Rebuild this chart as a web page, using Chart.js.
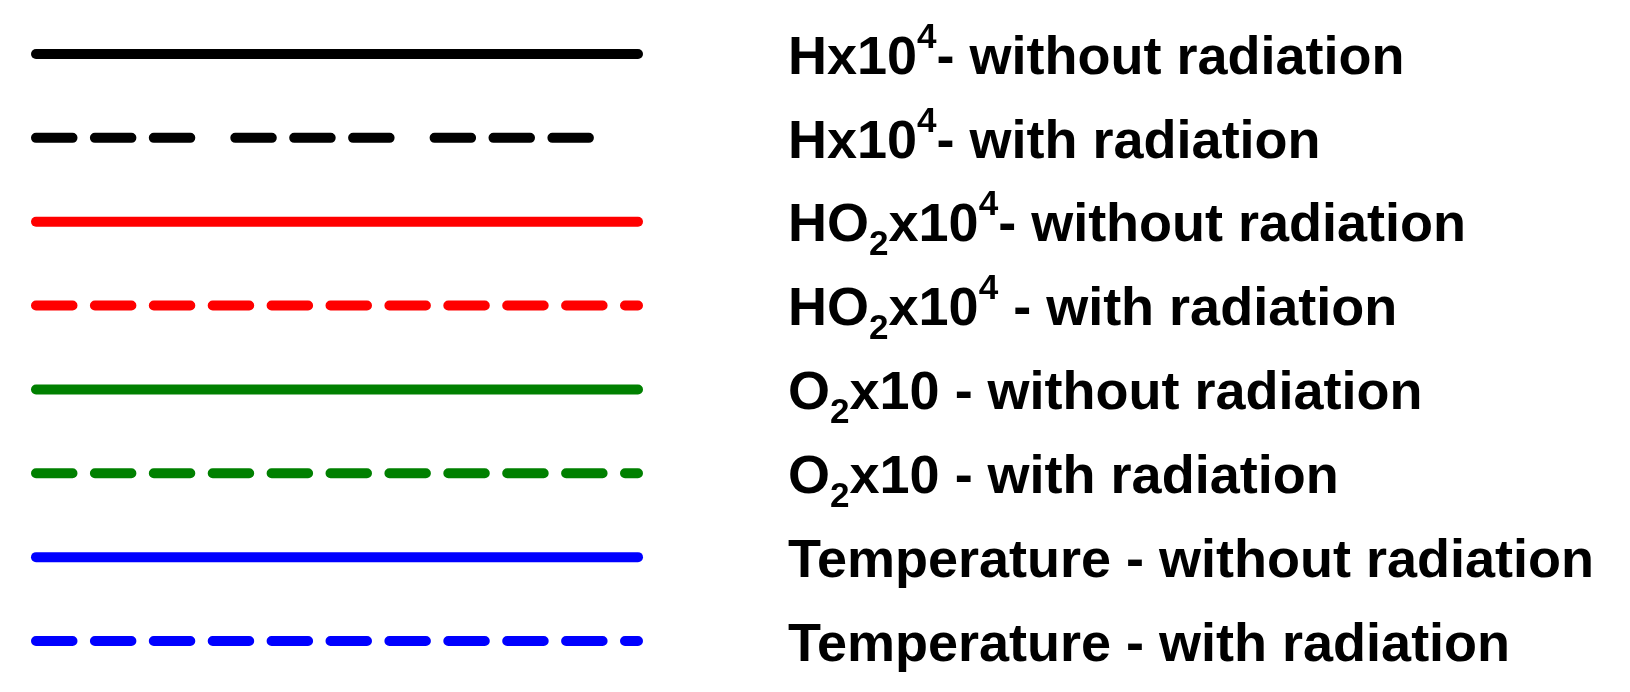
<!DOCTYPE html>
<html>
<head>
<meta charset="utf-8">
<script src="https://cdn.jsdelivr.net/npm/chart.js@4/dist/chart.umd.min.js"></script>
<style>
    html, body { margin: 0; padding: 0; background: #fff; }
    #contenedor { position: relative; width: 1630px; height: 692px; }
    #etiquetas div {
        position: absolute;
        left: 788px;
        font: bold 54px "Liberation Sans", Arial, sans-serif;
        line-height: 54px;
        white-space: nowrap;
        color: #000;
    }
    .sup { font-size: 0.65em; position: relative; top: -0.74em; }
    .sub { font-size: 0.65em; position: relative; top: 0.4em; }
</style>
</head>
<body>
<div id="contenedor">
    <canvas id="graficoLeyenda"></canvas>
    <div id="etiquetas"></div>
</div>
<script>
// Series de la leyenda (sin datos numericos: solo muestras de linea)
const especies = ['H', 'H', 'HO2', 'HO2', 'O2', 'O2', 'Temperature', 'Temperature'];
const factores = ['x10^4', 'x10^4', 'x10^4', 'x10^4', 'x10', 'x10', '', ''];
const casos = ['without radiation', 'with radiation', 'without radiation', 'with radiation',
               'without radiation', 'with radiation', 'without radiation', 'with radiation'];
const etiquetas = [
    'Hx10<span class="sup">4</span>- without radiation',
    'Hx10<span class="sup">4</span>- with radiation',
    'HO<span class="sub">2</span>x10<span class="sup">4</span>- without radiation',
    'HO<span class="sub">2</span>x10<span class="sup">4</span> - with radiation',
    'O<span class="sub">2</span>x10 - without radiation',
    'O<span class="sub">2</span>x10 - with radiation',
    'Temperature - without radiation',
    'Temperature - with radiation'
];
const colores = ['#000000', '#000000', '#ff0000', '#ff0000', '#008000', '#008000', '#0000ff', '#0000ff'];
const largoMuestra = [100, 92.3, 100, 100, 100, 100, 100, 100];

function patronGuion(i) {
    if (casos[i] === 'without radiation') return [];
    if (i === 1) return [36.5, 22.4, 36.5, 22.4, 36.5, 45];  // grupos de tres guiones
    return [36.5, 22.4];
}

const datasets = especies.map((esp, i) => ({
    label: esp + factores[i] + ' - ' + casos[i],
    data: [{ x: 0, y: i }, { x: largoMuestra[i], y: i }],
    borderColor: colores[i],
    borderWidth: 10,
    borderDash: patronGuion(i),
    borderCapStyle: 'round',
    pointRadius: 0,
    fill: false,
    clip: false
}));

const grafico = new Chart(document.getElementById('graficoLeyenda').getContext('2d'), {
    type: 'line',
    data: { datasets },
    options: {
        responsive: true,
        maintainAspectRatio: false,
        animation: false,
        layout: { padding: { left: 36, right: 992, top: 54, bottom: 51 } },
        plugins: { legend: { display: false }, tooltip: { enabled: false } },
        scales: {
            x: { type: 'linear', min: 0, max: 100, display: false },
            y: { type: 'linear', min: 0, max: 7, reverse: true, display: false }
        }
    }
});

// Textos de la leyenda alineados con cada linea
const cajaEtiquetas = document.getElementById('etiquetas');
etiquetas.forEach((texto, i) => {
    const y = grafico.scales.y.getPixelForValue(i);
    cajaEtiquetas.innerHTML += `<div style="top:${(y - 26.4).toFixed(1)}px">${texto}</div>`;
});
</script>
</body>
</html>
